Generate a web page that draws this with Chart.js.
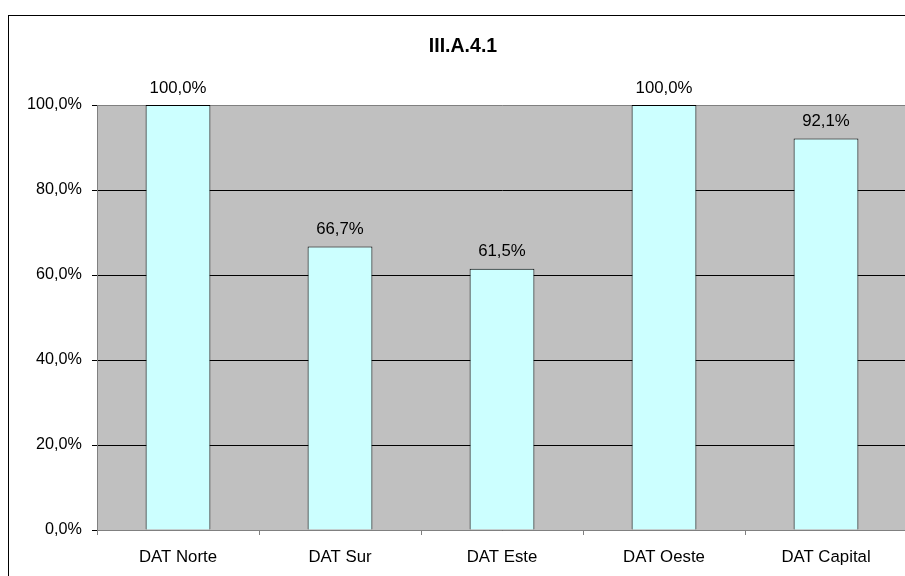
<!DOCTYPE html>
<html>
<head>
<meta charset="utf-8">
<script src="https://cdn.jsdelivr.net/npm/chart.js@4/dist/chart.umd.min.js"></script>
<style>
  html, body { margin: 0; padding: 0; background: #fff; overflow: hidden; }
  #wrap { position: absolute; left: 0; top: 0; width: 920px; height: 590px; }
</style>
</head>
<body>
<div id="wrap"><canvas id="c" width="920" height="590"></canvas></div>
<script>
const chartTitle = 'III.A.4.1';
const categories = ['DAT Norte', 'DAT Sur', 'DAT Este', 'DAT Oeste', 'DAT Capital'];
const percentages = [100.0, 66.7, 61.5, 100.0, 92.1];
const yTicks = [0, 20, 40, 60, 80, 100];

const fmt = v => v.toFixed(1).replace('.', ',') + '%';
const FONT = "'Liberation Sans', Arial, sans-serif";

// Gray plot background, outer frame, title and value labels
const decorations = {
  id: 'decorations',
  beforeDraw(chart) {
    const { ctx, chartArea: a } = chart;
    ctx.save();
    ctx.fillStyle = '#fff';
    ctx.fillRect(0, 0, chart.width, chart.height);
    ctx.fillStyle = '#C0C0C0';
    ctx.fillRect(a.left, a.top, a.right - a.left, a.bottom - a.top);
    ctx.restore();
  },
  afterDraw(chart) {
    const { ctx } = chart;
    ctx.save();
    ctx.strokeStyle = '#000';
    ctx.lineWidth = 1;
    ctx.strokeRect(8.5, 15.5, chart.width + 20, chart.height + 20);

    ctx.fillStyle = '#000';
    ctx.font = 'bold 19.5px ' + FONT;
    ctx.textAlign = 'center';
    ctx.textBaseline = 'middle';
    ctx.fillText(chartTitle, 463, 47);

    ctx.font = '16.8px ' + FONT;
    ctx.textBaseline = 'middle';
    const meta = chart.getDatasetMeta(0);
    meta.data.forEach((bar, i) => {
      ctx.fillText(fmt(percentages[i]), bar.x, bar.y - 17);
    });
    ctx.restore();
  }
};

new Chart(document.getElementById('c'), {
  type: 'bar',
  data: {
    labels: categories,
    datasets: [{
      data: percentages,
      backgroundColor: '#CCFFFF',
      borderColor: '#000',
      borderWidth: 1,
      borderSkipped: 'start',
      categoryPercentage: 1.0,
      barPercentage: 0.4
    }]
  },
  options: {
    responsive: false,
    animation: false,
    devicePixelRatio: 1,
    layout: { padding: { top: 105, right: 13, left: 0, bottom: 0 } },
    plugins: { legend: { display: false }, title: { display: false }, tooltip: { enabled: false } },
    scales: {
      x: {
        offset: true,
        afterFit(s) { s.height = 60; },
        grid: {
          offset: true,
          drawOnChartArea: false,
          drawTicks: true,
          tickLength: 5,
          color: '#808080'
        },
        border: { display: true, color: '#808080', width: 1 },
        ticks: { color: '#000', padding: 12, font: { family: FONT, size: 16.8 } }
      },
      y: {
        min: 0,
        max: 100,
        afterFit(s) { s.width = 97; },
        afterBuildTicks(s) { s.ticks = yTicks.map(v => ({ value: v })); },
        grid: {
          color: c => (c.tick && c.tick.value === 100) ? '#808080' : '#000',
          tickColor: '#000',
          tickLength: 5,
          lineWidth: 1
        },
        border: { display: true, color: '#808080', width: 1 },
        ticks: {
          color: '#000',
          padding: 10,
          font: { family: FONT, size: 16.2 },
          callback: v => fmt(v)
        }
      }
    }
  },
  plugins: [decorations]
});
</script>
</body>
</html>
